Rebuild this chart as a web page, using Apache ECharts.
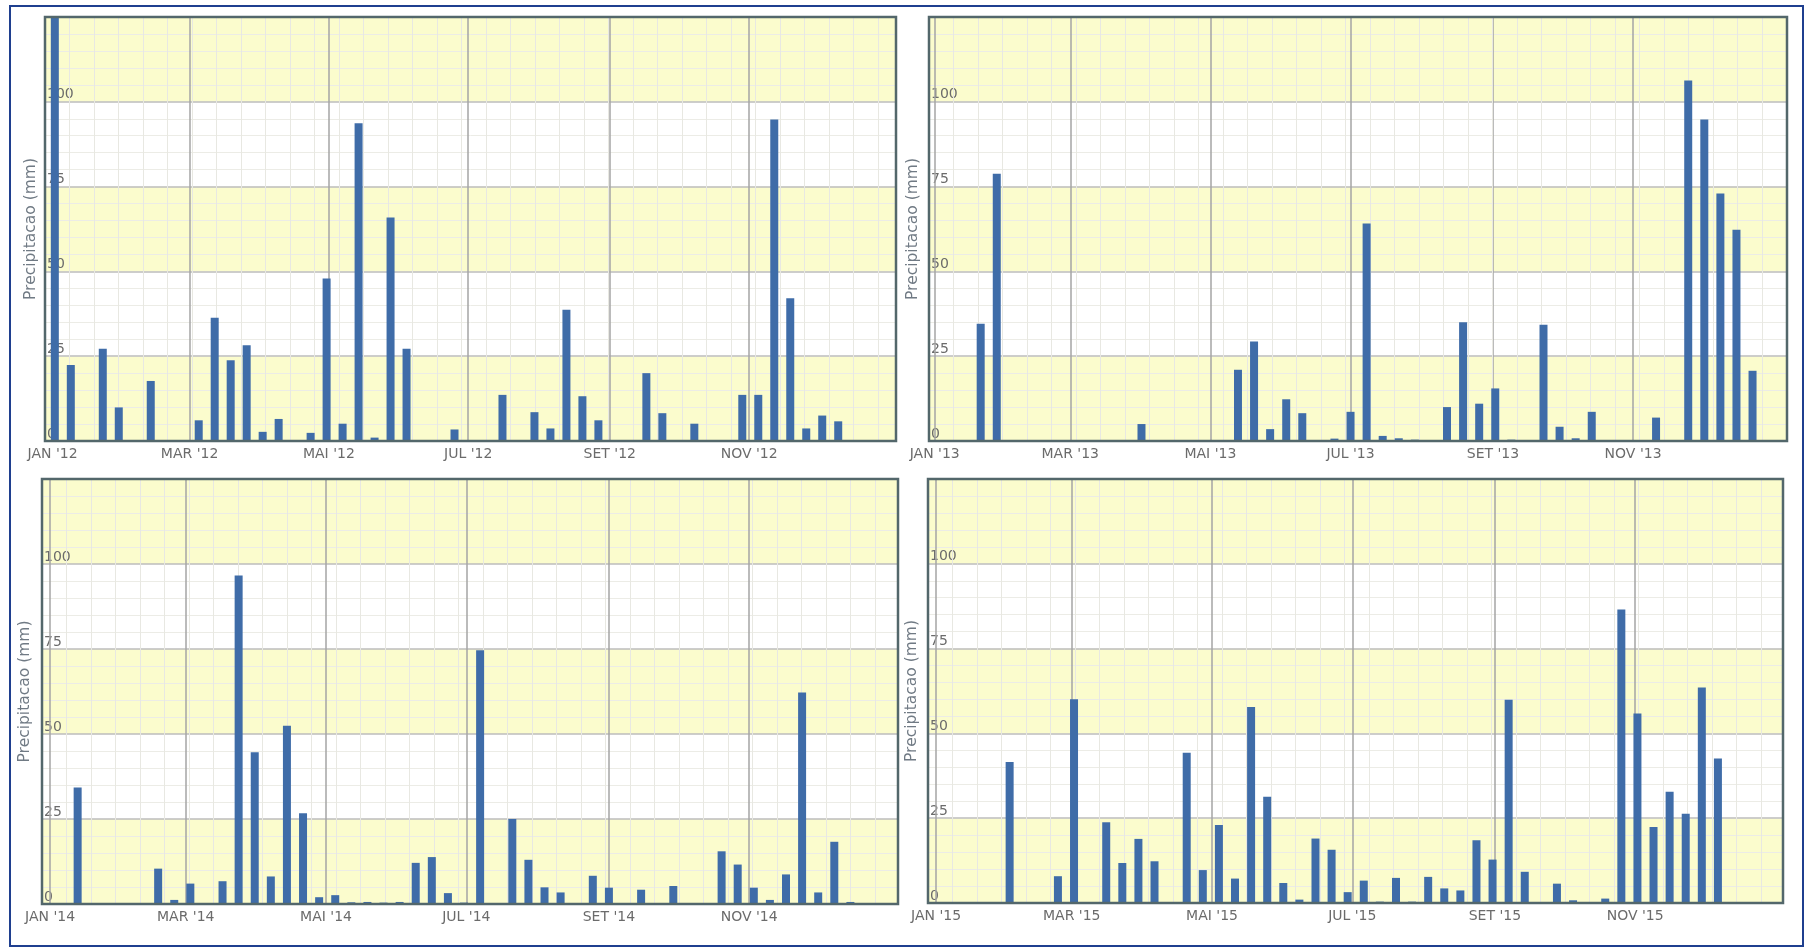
<!DOCTYPE html>
<html><head><meta charset="utf-8">
<script src="https://cdn.jsdelivr.net/npm/echarts@6/dist/echarts.min.js"></script>
<style>html,body{margin:0;padding:0;background:#fff}#c{width:1805px;height:950px}</style>
</head><body><div id="c"></div><script>
// ---- data ----
const monthNames = ['JAN','FEV','MAR','ABR','MAI','JUN','JUL','AGO','SET','OUT','NOV','DEZ'];
const tickMonths = [0, 2, 4, 6, 8, 10];
const yTicks = [0, 25, 50, 75, 100, 125];
const years = [2012, 2013, 2014, 2015];
// first Monday of each year = first weekly bar slot
const firstWeek = [[2012,0,2],[2013,0,7],[2014,0,6],[2015,0,5]];
// weekly precipitation (mm), one value per week
const rain2012 = [140,22.4,0,27.2,9.9,0,17.7,0,0,6.1,36.3,23.8,28.2,2.7,6.5,0,2.4,47.9,5.1,93.7,1,65.9,27.2,0.3,0,3.4,0.3,0,13.6,0,8.5,3.7,38.7,13.2,6.1,0.3,0.3,20,8.2,0,5.1,0,0,13.6,13.6,94.8,42.1,3.7,7.5,5.8,0,0];
const rain2013 = [0,0,34.6,78.8,0,0,0,0,0,0,0,0,5,0,0,0,0,0,21,29.3,3.5,12.3,8.2,0,0.7,8.6,64.1,1.5,0.8,0.4,0,10,35,11,15.5,0.4,0,34.3,4.2,0.8,8.6,0,0,0,6.9,0,106.3,94.8,73,62.3,20.7,0];
const rain2014 = [0,34.3,0,0,0,0,10.4,1.2,6,0,6.7,96.6,44.6,8.1,52.4,26.7,2,2.6,0.5,0.6,0.4,0.6,12.1,13.8,3.2,0.4,74.6,0,25,13,4.9,3.4,0,8.3,4.8,0,4.2,0,5.3,0,0,15.5,11.6,4.8,1.2,8.7,62.2,3.4,18.3,0.6,0,0];
const rain2015 = [0,0,0,0,41.6,0,0,7.9,60.1,0,23.8,11.8,18.9,12.3,0,44.3,9.7,23,7.2,57.8,31.3,5.9,1,19,15.7,3.2,6.6,0.4,7.4,0.4,7.7,4.3,3.7,18.5,12.8,59.9,9.2,0,5.7,0.8,0,1.3,86.5,55.9,22.4,32.8,26.3,63.5,42.6,0,0,0];
const rainByYear = [rain2012, rain2013, rain2014, rain2015];
const yName = 'Precipitacao (mm)';

// ---- layout ----
const DAY = 86400000;
const grids = [
  {left:45, top:17, width:851, height:424, pad:[-3.3, 369.3], nameGap:6},
  {left:929, top:17, width:858, height:424, pad:[-2.5, 371.0], nameGap:8},
  {left:42, top:479, width:856, height:425, pad:[-3.5, 368.7], nameGap:9},
  {left:928, top:479, width:855, height:424, pad:[-3.5, 368.3], nameGap:8}
];
const FONT = 'DejaVu Sans';
const BAR = '#3f6ca8';
const YELLOW = '#fbfccd';

function dayOfYear(yr, y, m, d) {
  return Math.round((Date.UTC(y, m, d) - Date.UTC(yr, 0, 1)) / DAY);
}

const option = {
  backgroundColor: '#ffffff',
  animation: false,
  grid: [], xAxis: [], yAxis: [], series: [], graphic: []
};

grids.forEach((g, i) => {
  const yr = years[i];
  option.grid.push({left:g.left, top:g.top, width:g.width, height:g.height, show:false, containLabel:false});
  const tickDays = tickMonths.map(m => dayOfYear(yr, yr, m, 1));
  const tickText = tickMonths.map(m => monthNames[m] + " '" + String(yr).slice(2));
  option.xAxis.push({
    type:'value', gridIndex:i, z:1,
    min: g.pad[0], max: g.pad[1],
    axisLine:{show:false}, axisTick:{show:false, customValues:tickDays},
    axisLabel:{customValues:tickDays, margin:6, color:'#6b6b6b', fontSize:14, fontFamily:FONT,
      formatter: v => { const k = tickDays.indexOf(Math.round(v)); return k >= 0 ? tickText[k] : ''; }},
    splitLine:{show:true, lineStyle:{color:'#a4a4a4', width:1.5}}
  });
  option.yAxis.push({
    type:'value', gridIndex:i, min:yTicks[0], max:yTicks[yTicks.length-1], interval:25,
    name: yName, nameLocation:'middle', nameRotate:90, nameGap:g.nameGap,
    nameTextStyle:{color:'#707a84', fontSize:15.5, fontFamily:FONT},
    axisLine:{show:false}, axisTick:{show:false},
    axisLabel:{inside:true, verticalAlign:'bottom', margin:2, color:'#6b6b6b', fontSize:14, fontFamily:FONT,
      formatter: v => v === 125 ? '' : String(v)},
    splitLine:{show:true, lineStyle:{color:'#bcbcbc', width:1.5}},
    minorTick:{show:false, splitNumber:5},
    minorSplitLine:{show:true, lineStyle:{color:'#ececE6', width:1}},
    splitArea:{show:true, areaStyle:{color:[YELLOW, '#ffffff']}}
  });
  const s = firstWeek[i];
  const vals = rainByYear[i];
  option.series.push({
    type:'bar', xAxisIndex:i, yAxisIndex:i, barWidth:8, clip:true,
    itemStyle:{color:BAR},
    data: vals.map((v, k) => [dayOfYear(yr, s[0], s[1], s[2] + 7*k), v])
  });
  option.graphic.push({type:'rect', z:100, silent:true,
    shape:{x:g.left, y:g.top, width:g.width, height:g.height},
    style:{fill:'none', stroke:'#53676b', lineWidth:2.5}});
});
// minor vertical grid lines
grids.forEach((g, i) => {
  option.xAxis.push({
    type:'value', gridIndex:i, min:0, max:g.width/24.5, interval:1, z:1,
    axisLine:{show:false}, axisTick:{show:false}, axisLabel:{show:false},
    splitLine:{show:true, lineStyle:{color:'#e8e8e2', width:1}}
  });
});
option.graphic.push({type:'rect', z:100, silent:true,
  shape:{x:10, y:6, width:1793, height:940},
  style:{fill:'none', stroke:'#1f3f8f', lineWidth:2}});

const chart = echarts.init(document.getElementById('c'), null, {renderer:'canvas'});
chart.setOption(option);
</script></body></html>
